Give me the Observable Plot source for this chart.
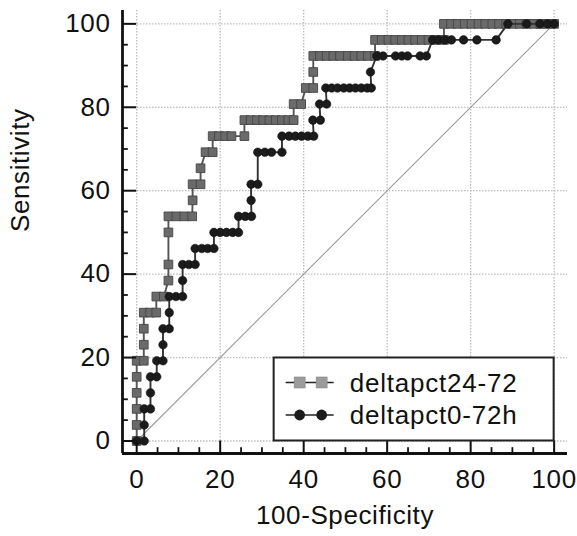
<!DOCTYPE html>
<html><head><meta charset="utf-8">
<script src="https://cdn.jsdelivr.net/npm/d3@7"></script>
<script src="https://cdn.jsdelivr.net/npm/@observablehq/plot@0.6"></script>
<style>
body{margin:0;background:#fff;}
#chart svg text{font-family:"Liberation Sans",Arial,sans-serif;letter-spacing:0.6px;}
</style></head><body><div id="chart"></div>
<script>
// Series 1: deltapct24-72 (squares) — 100-Specificity / Sensitivity
const sqX = [0,0,0,0,0,0,1.7,1.7,1.7,1.7,3.2,4.7,4.7,6.5,7.6,7.6,7.6,7.6,9.5,11.4,13.3,13.4,13.4,15.3,15.3,16.5,18.2,18.2,19.7,21.2,22.7,25.8,25.8,27.3,28.8,30.3,31.8,33.3,34.8,36.3,37.6,37.6,39.4,40.5,42.3,42.3,42.3,43.9,45.5,47.1,48.7,50.6,52.2,53.8,55.4,57.1,57.1,58.7,60.3,61.9,63.5,65.1,66.7,68.3,69.9,71.5,73.6,73.6,75.3,76.9,78.6,80.2,81.9,83.5,85.2,86.8,88.5,90.1,91.8,93.4,95.1,96.7,98.4,100];
const sqY = [0,3.85,7.69,11.54,15.38,19.23,19.23,23.08,26.92,30.77,30.77,30.77,34.62,34.62,38.46,42.31,50,53.85,53.85,53.85,53.85,57.69,61.54,61.54,65.38,69.23,69.23,73.08,73.08,73.08,73.08,73.08,76.92,76.92,76.92,76.92,76.92,76.92,76.92,76.92,76.92,80.77,80.77,84.62,84.62,88.46,92.31,92.31,92.31,92.31,92.31,92.31,92.31,92.31,92.31,92.31,96.15,96.15,96.15,96.15,96.15,96.15,96.15,96.15,96.15,96.15,96.15,100,100,100,100,100,100,100,100,100,100,100,100,100,100,100,100,100];
// Series 2: deltapct0-72h (circles)
const ciX = [0,1.8,1.8,1.8,3.3,3.3,3.3,4.8,4.8,6.3,6.3,6.3,7.8,7.8,7.8,9.4,11.0,11.0,11.0,12.5,14.0,14.0,15.6,17.0,18.5,18.5,20.0,21.5,23.0,24.4,24.4,26.0,27.5,27.4,27.4,29.0,29.0,30.7,32.3,34.8,34.8,36.5,38.0,39.5,41.0,42.4,42.2,44.0,43.8,45.5,45.3,46.7,48.1,49.6,51.0,52.4,53.8,55.2,56.2,56.0,57.5,59.0,62.0,63.5,64.9,67.9,69.4,70.9,72.3,73.8,75.4,78.3,81.5,86.1,88.9,93.4,96.6,98.4,100];
const ciY = [0,0,3.85,7.69,7.69,11.54,15.38,15.38,19.23,19.23,23.08,26.92,26.92,30.77,34.62,34.62,34.62,38.46,42.31,42.31,42.31,46.15,46.15,46.15,46.15,50,50,50,50,50,53.85,53.85,53.85,57.69,61.54,61.54,69.23,69.23,69.23,69.23,73.08,73.08,73.08,73.08,73.08,73.08,76.92,76.92,80.77,80.77,84.62,84.62,84.62,84.62,84.62,84.62,84.62,84.62,84.62,88.46,92.31,92.31,92.31,92.31,92.31,92.31,92.31,96.15,96.15,96.15,96.15,96.15,96.15,96.15,100,100,100,100,100];
const diagonal = [0, 100];
const majorTicks = [0, 20, 40, 60, 80, 100];
const minorTicks = [5, 10, 15, 25, 30, 35, 45, 50, 55, 65, 70, 75, 85, 90, 95];
const seriesNames = ["deltapct24-72", "deltapct0-72h"];
const xTitle = "100-Specificity";
const yTitle = "Sensitivity";

const xDomain = [-3.4, 103.2];
const yDomain = [-3.0, 103.2];

const sq = sqX.map((x, i) => ({x, y: sqY[i]}));
const ci = ciX.map((x, i) => ({x, y: ciY[i]}));
const diag = diagonal.map(v => ({x: v, y: v}));

const grid = {stroke: "#bdbdbd", strokeWidth: 1.3, strokeDasharray: "1.5,1.5", strokeOpacity: 1};
const ink = "#111";
const FS = 26;

const plot = Plot.plot({
  width: 577, height: 536,
  marginLeft: 122, marginRight: 10, marginTop: 10, marginBottom: 83,
  x: {domain: xDomain, label: null},
  y: {domain: yDomain, label: null},
  style: {fontFamily: "Liberation Sans, Arial, sans-serif", fontSize: FS + "px", color: ink, background: "#fff", overflow: "visible"},
  marks: [
    Plot.ruleX(majorTicks, grid),
    Plot.ruleY(majorTicks, grid),
    Plot.line(diag, {x: "x", y: "y", stroke: "#9a9a9a", strokeWidth: 1.1}),
    Plot.line(sq, {x: "x", y: "y", stroke: "#555", strokeWidth: 1.9}),
    Plot.dot(sq, {x: "x", y: "y", symbol: "square", r: 4.9, fill: "#6a6a6a", stroke: "#454545", strokeWidth: 0.9}),
    Plot.line(ci, {x: "x", y: "y", stroke: "#333", strokeWidth: 1.9}),
    Plot.dot(ci, {x: "x", y: "y", r: 4.3, fill: "#1b1b1b", stroke: "#111", strokeWidth: 0.5}),
    Plot.ruleX(majorTicks, {y1: yDomain[0], y2: 0, stroke: ink, strokeWidth: 2}),
    Plot.ruleX(minorTicks, {y1: yDomain[0], y2: yDomain[0] + 1.4, stroke: ink, strokeWidth: 1.8}),
    Plot.ruleY(majorTicks, {x1: xDomain[0], x2: 0, stroke: ink, strokeWidth: 2}),
    Plot.ruleY(minorTicks, {x1: xDomain[0], x2: xDomain[0] + 1.4, stroke: ink, strokeWidth: 1.8}),
    Plot.ruleX([xDomain[0]], {stroke: ink, strokeWidth: 2.8}),
    Plot.ruleY([yDomain[0]], {stroke: ink, strokeWidth: 2.8}),
    Plot.axisX(majorTicks, {tickSize: 0, tickPadding: 16, label: null, fontSize: FS}),
    Plot.axisY(majorTicks, {tickSize: 0, tickPadding: 12, label: null, fontSize: FS}),
    Plot.text([xTitle], {frameAnchor: "bottom", dy: 70, fontSize: FS, fill: ink}),
    Plot.text([yTitle], {frameAnchor: "left", rotate: -90, dx: -102, fontSize: FS, fill: ink})
  ]
});

// Legend box (bottom-right, inside frame)
const sx = plot.scale("x"), sy = plot.scale("y");
const bx2 = sx.apply(100), by2 = sy.apply(0);
const bw = 280, bh = 83;
const bx = bx2 - bw, by = by2 - bh;
const svg = d3.select(plot);
const lg = svg.append("g");
lg.append("rect").attr("x", bx).attr("y", by).attr("width", bw).attr("height", bh)
  .attr("fill", "#fff").attr("stroke", "#222").attr("stroke-width", 2);
const rows = [
  {name: seriesNames[0], cy: by + 25, base: by + 34.5, kind: "square"},
  {name: seriesNames[1], cy: by + 57.5, base: by + 66.7, kind: "circle"}
];
rows.forEach(r => {
  lg.append("line").attr("x1", bx + 12).attr("x2", bx + 60).attr("y1", r.cy).attr("y2", r.cy)
    .attr("stroke", "#222").attr("stroke-width", 1.5);
  [bx + 26, bx + 48].forEach(cx => {
    if (r.kind === "square") {
      lg.append("rect").attr("x", cx - 5.5).attr("y", r.cy - 5.5).attr("width", 11).attr("height", 11)
        .attr("fill", "#9b9b9b").attr("stroke", "#8a8a8a").attr("stroke-width", 0.6);
    } else {
      lg.append("circle").attr("cx", cx).attr("cy", r.cy).attr("r", 5.4).attr("fill", "#1b1b1b");
    }
  });
  lg.append("text").attr("x", bx + 76).attr("y", r.base).attr("font-size", FS)
    .attr("text-anchor", "start").attr("fill", ink).style("letter-spacing", "0.8px").text(r.name);
});

document.getElementById("chart").append(plot);
</script></body></html>
